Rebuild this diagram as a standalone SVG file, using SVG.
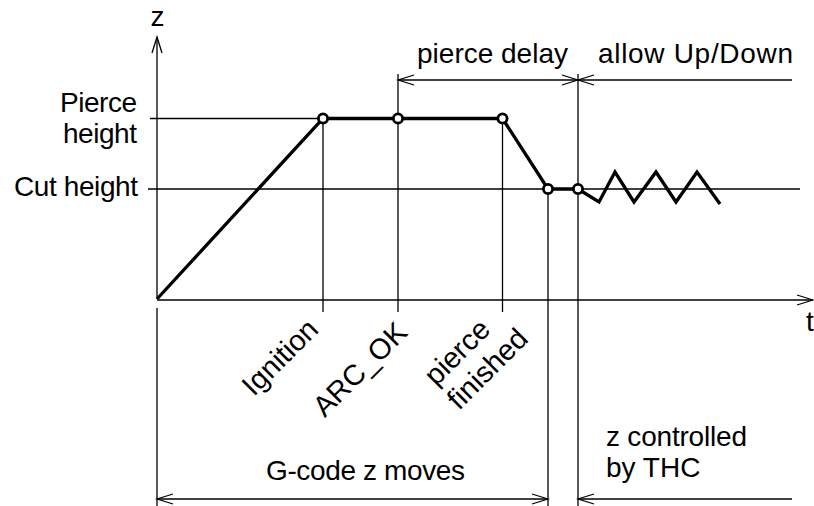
<svg xmlns="http://www.w3.org/2000/svg" width="814" height="506" viewBox="0 0 814 506">
<style>
.thin{fill:none;stroke:#000;stroke-width:1.3}
.thick{fill:none;stroke:#000;stroke-width:3.3;stroke-linejoin:miter}
.pt{fill:#fff;stroke:#000;stroke-width:2.8}
text{font-family:"Liberation Sans",Arial,sans-serif;font-size:28px;fill:#000}
.rot{font-size:29px}
</style>
<defs>
<marker id="ah" viewBox="-18 -7 20 14" refX="0" refY="0" markerWidth="20" markerHeight="14" markerUnits="userSpaceOnUse" orient="auto-start-reverse">
<path d="M-16,-5 L0,0 L-16,5" fill="none" stroke="#000" stroke-width="1.3"/>
</marker>
</defs>
<rect width="814" height="506" fill="#fff"/>
<g id="axes">
<line class="thin" x1="157" y1="299" x2="157" y2="37" marker-end="url(#ah)"/>
<line class="thin" x1="157" y1="300" x2="813" y2="300" marker-end="url(#ah)"/>
<text x="150.5" y="26">z</text>
<text x="806" y="331">t</text>
</g>
<g id="levels">
<line class="thin" x1="150" y1="118.5" x2="323" y2="118.5"/>
<line class="thin" x1="148" y1="189" x2="800" y2="189"/>
<text x="137" y="112" text-anchor="end" textLength="77">Pierce</text>
<text x="137" y="143" text-anchor="end" textLength="74">height</text>
<text x="14" y="196" textLength="124">Cut height</text>
</g>
<g id="connectors">
<line class="thin" x1="323" y1="118" x2="323" y2="312"/>
<line class="thin" x1="398" y1="74" x2="398" y2="312"/>
<line class="thin" x1="502.5" y1="118" x2="502.5" y2="312"/>
<line class="thin" x1="548" y1="189" x2="548" y2="506"/>
<line class="thin" x1="578" y1="74" x2="578" y2="506"/>
<line class="thin" x1="157" y1="308" x2="157" y2="506"/>
<line class="thin" x1="398" y1="80" x2="578" y2="80" marker-start="url(#ah)" marker-end="url(#ah)"/>
<line class="thin" x1="792" y1="80" x2="578" y2="80" marker-end="url(#ah)"/>
<line class="thin" x1="157" y1="499" x2="548" y2="499" marker-start="url(#ah)" marker-end="url(#ah)"/>
<line class="thin" x1="792" y1="499" x2="578" y2="499" marker-end="url(#ah)"/>
</g>
<g id="profile">
<polyline class="thick" points="157,299 323,118.5 502.5,118.5 548,189 578,189 599,202 615,172 634,202 656,172 676,202 697,172 720,204"/>
</g>
<g id="points">
<circle class="pt" cx="323" cy="118.5" r="4.6"/>
<circle class="pt" cx="398" cy="118.5" r="4.6"/>
<circle class="pt" cx="502.5" cy="118.5" r="4.6"/>
<circle class="pt" cx="548" cy="189" r="4.6"/>
<circle class="pt" cx="578" cy="189" r="4.6"/>
</g>
<g id="labels">
<text x="417" y="63" textLength="151">pierce delay</text>
<text x="598" y="63" textLength="195">allow Up/Down</text>
<text class="rot" transform="translate(320,331) rotate(-45)" text-anchor="end">Ignition</text>
<text class="rot" transform="translate(409,334) rotate(-45)" text-anchor="end">ARC_OK</text>
<text class="rot" transform="translate(436,387) rotate(-45)">pierce</text>
<text class="rot" transform="translate(459,411) rotate(-45)">finished</text>
<text x="266" y="480" textLength="199">G-code z moves</text>
<text x="606" y="446" textLength="141">z controlled</text>
<text x="606" y="477">by THC</text>
</g>
</svg>
